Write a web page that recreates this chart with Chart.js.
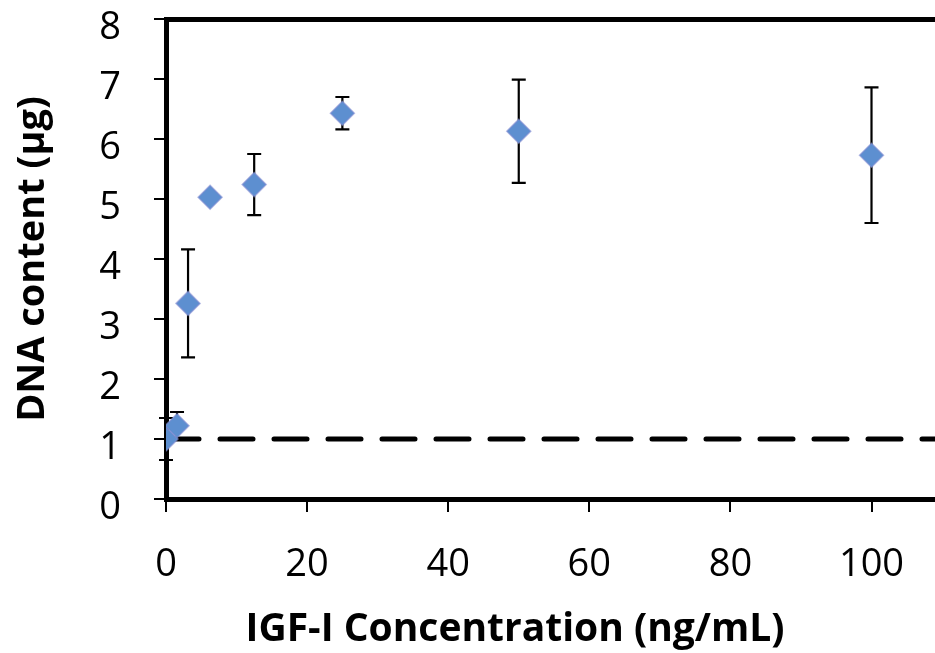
<!DOCTYPE html>
<html>
<head>
<meta charset="utf-8">
<script src="https://cdn.jsdelivr.net/npm/chart.js@4/dist/chart.umd.min.js"></script>
<style>
  html, body { margin: 0; padding: 0; background: #fff; overflow: hidden; }
  #wrap { width: 935px; height: 653px; position: relative; }
</style>
</head>
<body>
<div id="wrap"><canvas id="grafico"></canvas></div>
<script>
// IGF-I concentration (ng/mL)
var concentracoes = [0, 1.5625, 3.125, 6.25, 12.5, 25, 50, 100];
// DNA content (ug), mean and error
var dna = [1.0, 1.22, 3.26, 5.03, 5.24, 6.43, 6.13, 5.73];
var erros = [0.35, 0.23, 0.9, 0.06, 0.51, 0.27, 0.86, 1.13];
// reference line (control level)
var linhaRefX = [0, 109];
var linhaRefY = [1, 1];
var ticksX = [0, 20, 40, 60, 80, 100];

var pontos = concentracoes.map(function (x, i) { return {x: x, y: dna[i]}; });
var linhaRef = linhaRefX.map(function (x, i) { return {x: x, y: linhaRefY[i]}; });

// barras de erro desenhadas pelas escalas do grafico
var barrasErro = {
    id: 'barrasErro',
    beforeDatasetsDraw: function (chart) {
        var ctx = chart.ctx;
        var sx = chart.scales.x, sy = chart.scales.y;
        ctx.save();
        ctx.strokeStyle = '#000';
        ctx.lineWidth = 2.2;
        concentracoes.forEach(function (x, i) {
            var px = sx.getPixelForValue(x);
            var top = sy.getPixelForValue(dna[i] + erros[i]);
            var bot = sy.getPixelForValue(dna[i] - erros[i]);
            ctx.beginPath();
            ctx.moveTo(px, top); ctx.lineTo(px, bot);
            ctx.moveTo(px - 7, top); ctx.lineTo(px + 7, top);
            ctx.moveTo(px - 7, bot); ctx.lineTo(px + 7, bot);
            ctx.stroke();
        });
        ctx.restore();
    }
};

var fonte = '"Open Sans", "Liberation Sans", sans-serif';

new Chart(document.getElementById('grafico').getContext('2d'), {
    type: 'scatter',
    data: {
        datasets: [
            {
                label: 'DNA',
                data: pontos,
                pointStyle: 'rectRot',
                pointRadius: 12,
                pointHoverRadius: 12,
                backgroundColor: '#5d8fd0',
                borderColor: 'rgba(130,140,210,0.6)',
                borderWidth: 1.5
            },
            {
                label: 'controle',
                data: linhaRef,
                type: 'line',
                showLine: true,
                borderColor: '#000',
                borderWidth: 5,
                borderDash: [33, 21],
                borderCapStyle: 'round',
                pointRadius: 0,
                fill: false
            }
        ]
    },
    options: {
        responsive: true,
        maintainAspectRatio: false,
        animation: false,
        layout: { padding: 0, autoPadding: false },
        plugins: {
            legend: { display: false },
            tooltip: { enabled: false }
        },
        scales: {
            x: {
                type: 'linear',
                position: 'bottom',
                min: 0,
                max: 109,
                afterBuildTicks: function (axis) {
                    axis.ticks = ticksX.map(function (v) { return {value: v}; });
                },
                afterFit: function (axis) {
                    axis.height = 154;
                    axis.paddingLeft = 0;
                    axis.paddingRight = 0;
                },
                border: { display: true, color: '#000', width: 5 },
                grid: { drawOnChartArea: false, drawTicks: true, tickLength: 13, color: '#000', lineWidth: 2 },
                ticks: { color: '#000', padding: 30, font: { family: fonte, size: 38 } },
                title: {
                    display: true,
                    // espacos no fim deslocam o titulo para a esquerda, como no original
                    text: 'IGF-I Concentration (ng/mL)       ',
                    color: '#000',
                    padding: { top: 0, bottom: 0 },
                    font: { family: fonte, size: 39, weight: 'bold' }
                }
            },
            x2: {
                type: 'linear',
                position: 'top',
                min: 0,
                max: 109,
                afterFit: function (axis) {
                    axis.height = 19;
                    axis.paddingLeft = 0;
                    axis.paddingRight = 0;
                },
                border: { display: true, color: '#000', width: 5 },
                grid: { display: false },
                ticks: { display: false }
            },
            y: {
                min: 0,
                max: 8,
                afterFit: function (axis) {
                    axis.width = 166;
                    axis.paddingTop = 0;
                    axis.paddingBottom = 0;
                },
                border: { display: true, color: '#000', width: 5 },
                grid: { drawOnChartArea: false, drawTicks: true, tickLength: 12, color: '#000', lineWidth: 2 },
                ticks: { stepSize: 1, color: '#000', padding: 33, labelOffset: 9, font: { family: fonte, size: 38 } },
                title: {
                    display: true,
                    text: 'DNA content (µg)',
                    color: '#000',
                    padding: { top: 10, bottom: 0 },
                    font: { family: fonte, size: 38, weight: 'bold' }
                }
            }
        }
    },
    plugins: [barrasErro]
});
</script>
</body>
</html>
